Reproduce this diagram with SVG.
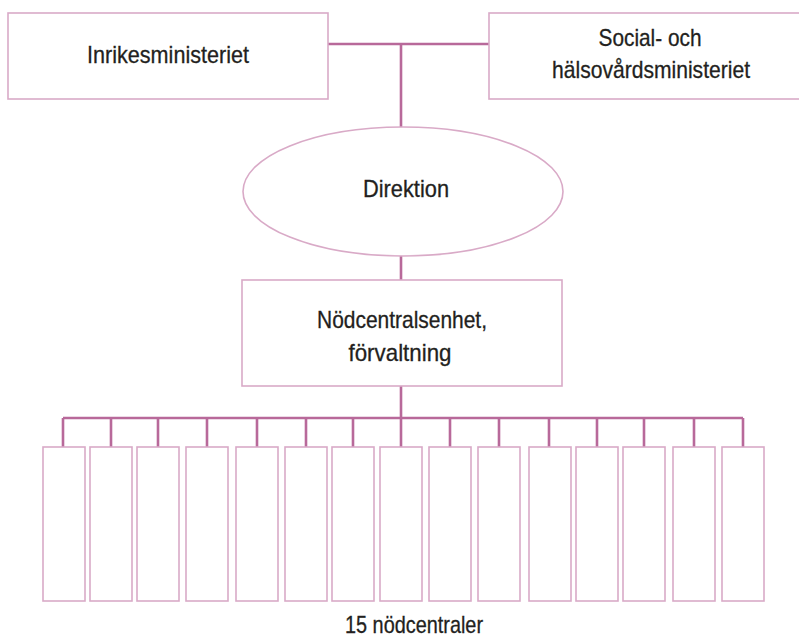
<svg xmlns="http://www.w3.org/2000/svg" width="799" height="642" viewBox="0 0 799 642">
<style>
.box{fill:#fff;stroke:#d9aac7;stroke-width:1.6}
.conn{fill:none;stroke:#b8699a;stroke-width:2.6}
.t{font-family:"Liberation Sans",Arial,sans-serif;font-size:24px;fill:#231f20;text-anchor:middle;stroke:#231f20;stroke-width:0.3}
</style>
<rect width="799" height="642" fill="#fff"/>
<g id="connectors">
<path class="conn" d="M328 44H489M401 44V127M401 256V280M401 386V418M63 418H743"/>
<path class="conn" d="M63 418V447M111 418V447M158 418V447M207 418V447M257 418V447M306 418V447M353 418V447M401 418V447M450 418V447M499 418V447M549 418V447M597 418V447M644 418V447M694 418V447M743 418V447"/>
</g>
<g id="inrikesministeriet">
<rect class="box" x="8" y="13" width="320" height="86"/>
<text class="t" x="168" y="63" textLength="162" lengthAdjust="spacingAndGlyphs">Inrikesministeriet</text>
</g>
<g id="social">
<rect class="box" x="489" y="13" width="320" height="86"/>
<text class="t" x="650" y="46" textLength="103" lengthAdjust="spacingAndGlyphs">Social-  och</text>
<text class="t" x="651" y="78" textLength="198" lengthAdjust="spacingAndGlyphs">hälsovårdsministeriet</text>
</g>
<g id="direktion">
<ellipse class="box" cx="403" cy="191.5" rx="160" ry="64.5"/>
<text class="t" x="406" y="197" textLength="86" lengthAdjust="spacingAndGlyphs">Direktion</text>
</g>
<g id="enhet">
<rect class="box" x="242" y="280" width="320" height="106"/>
<text class="t" x="402" y="328" textLength="170" lengthAdjust="spacingAndGlyphs">Nödcentralsenhet,</text>
<text class="t" x="400" y="361" textLength="103" lengthAdjust="spacingAndGlyphs">förvaltning</text>
</g>
<g id="centraler">
<rect class="box" x="43" y="447" width="42" height="154"/>
<rect class="box" x="90" y="447" width="42" height="154"/>
<rect class="box" x="137" y="447" width="42" height="154"/>
<rect class="box" x="186" y="447" width="42" height="154"/>
<rect class="box" x="236" y="447" width="42" height="154"/>
<rect class="box" x="285" y="447" width="42" height="154"/>
<rect class="box" x="332" y="447" width="42" height="154"/>
<rect class="box" x="380" y="447" width="42" height="154"/>
<rect class="box" x="429" y="447" width="42" height="154"/>
<rect class="box" x="478" y="447" width="42" height="154"/>
<rect class="box" x="529" y="447" width="42" height="154"/>
<rect class="box" x="576" y="447" width="42" height="154"/>
<rect class="box" x="623" y="447" width="42" height="154"/>
<rect class="box" x="673" y="447" width="42" height="154"/>
<rect class="box" x="722" y="447" width="42" height="154"/>
<text class="t" x="414" y="633" textLength="138" lengthAdjust="spacingAndGlyphs">15  nödcentraler</text>
</g>
</svg>
